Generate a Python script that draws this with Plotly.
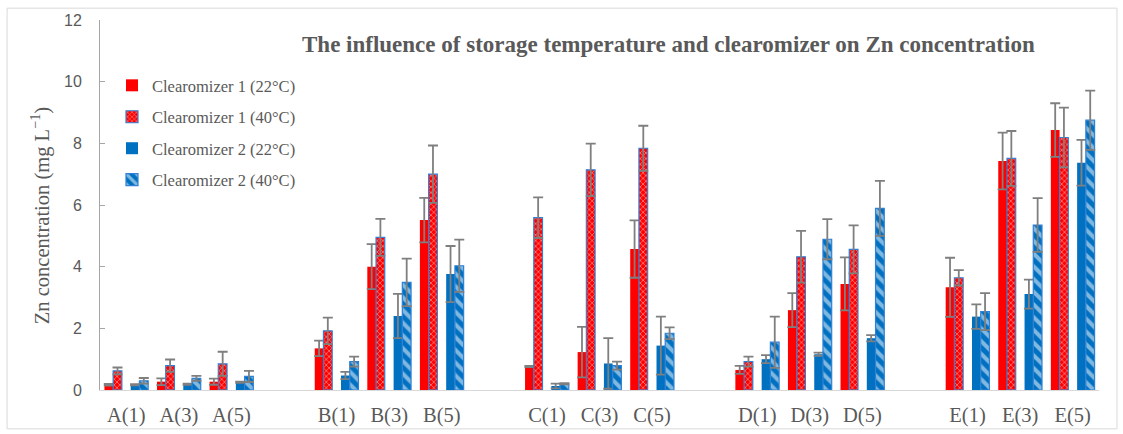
import plotly.graph_objects as go

# ---- data -------------------------------------------------------------
categories = ["A(1)", "A(3)", "A(5)",
              "B(1)", "B(3)", "B(5)",
              "C(1)", "C(3)", "C(5)",
              "D(1)", "D(3)", "D(5)",
              "E(1)", "E(3)", "E(5)"]

c1_22 = [0.17, 0.27, 0.27, 1.35, 4.00, 5.51, 0.76, 1.23, 4.57, 0.65, 2.59, 3.44, 3.33, 7.43, 8.43]
c1_22_err = [0.03, 0.11, 0.10, 0.25, 0.73, 0.72, 0.02, 0.82, 0.93, 0.13, 0.55, 0.86, 0.96, 0.92, 0.87]
c1_40 = [0.62, 0.79, 0.85, 1.92, 4.95, 7.00, 5.59, 7.14, 7.84, 0.92, 4.32, 4.56, 3.64, 7.51, 8.19]
c1_40_err = [0.11, 0.20, 0.39, 0.43, 0.60, 0.93, 0.66, 0.85, 0.73, 0.16, 0.84, 0.78, 0.25, 0.89, 0.97]
c2_22 = [0.17, 0.19, 0.25, 0.47, 2.40, 3.76, 0.13, 0.86, 1.44, 1.00, 1.16, 1.68, 2.38, 3.11, 7.37]
c2_22_err = [0.02, 0.02, 0.02, 0.12, 0.72, 0.91, 0.08, 0.82, 0.94, 0.13, 0.05, 0.10, 0.40, 0.47, 0.74]
c2_40 = [0.30, 0.38, 0.44, 0.92, 3.49, 4.03, 0.20, 0.79, 1.84, 1.55, 4.89, 5.89, 2.54, 5.35, 8.75]
c2_40_err = [0.09, 0.08, 0.18, 0.16, 0.77, 0.85, 0.02, 0.13, 0.19, 0.83, 0.65, 0.89, 0.60, 0.87, 0.96]

series_names = ["Clearomizer 1 (22°C)", "Clearomizer 1 (40°C)",
                "Clearomizer 2 (22°C)", "Clearomizer 2 (40°C)"]
title_text = "The influence of storage temperature and clearomizer on Zn concentration"
y_title = "Zn concentration (mg L<sup>−1</sup>)"

# ---- layout helpers ----------------------------------------------------
# each group of three categories is followed by one empty category slot
slot = [4 * (i // 3) + (i % 3) for i in range(len(categories))]
n_slots = 19
bw = 0.166
offsets = [0.167, 0.333, 0.667, 0.833]

RED = "#ff0000"
BLUE = "#0070c0"
EDGE = "#2f80d6"
ERR = dict(type="data", color="#7f7f7f", thickness=1.8, width=5)
SERIF = "Liberation Serif"
GREY = "#595959"

values = [c1_22, c1_40, c2_22, c2_40]
errors = [c1_22_err, c1_40_err, c2_22_err, c2_40_err]
markers = [
    dict(color=RED, line=dict(width=0)),
    dict(color=RED, line=dict(color=EDGE, width=1.2),
         pattern=dict(shape="x", fgcolor="white", bgcolor=RED, size=4, solidity=0.35)),
    dict(color=BLUE, line=dict(width=0)),
    dict(color=BLUE, line=dict(color=EDGE, width=1.2),
         pattern=dict(shape="\\", fgcolor="white", bgcolor=BLUE, size=9, solidity=0.45)),
]

fig = go.Figure()
for k in range(4):
    fig.add_trace(go.Bar(
        x=[s + offsets[k] for s in slot],
        y=values[k],
        width=bw,
        name=series_names[k],
        legendgroup=f"g{k}",
        marker=markers[k],
        error_y=dict(array=errors[k], **ERR),
    ))

fig.update_layout(
    width=1123, height=434,
    margin=dict(l=100, r=24, t=20, b=44, autoexpand=False),
    paper_bgcolor="white", plot_bgcolor="white",
    barmode="overlay",
    showlegend=True,
    legend=dict(x=0.012, y=0.87, xanchor="left", yanchor="top",
                bgcolor="rgba(0,0,0,0)", tracegroupgap=7,
                font=dict(family=SERIF, size=16.5, color=GREY)),
    xaxis=dict(range=[0, n_slots], showgrid=False, zeroline=False,
               showline=True, linecolor="#d9d9d9", linewidth=1,
               tickvals=[s + 0.5 for s in slot], ticktext=categories,
               ticks="", ticklabelstandoff=6,
               tickfont=dict(family=SERIF, size=20.5, color=GREY)),
    yaxis=dict(range=[0, 12], dtick=2, showgrid=False, zeroline=False,
               showline=True, linecolor="#a6a6a6", linewidth=1,
               ticks="inside", ticklen=5, tickcolor="#a6a6a6",
               ticklabelstandoff=14,
               tickfont=dict(family="Liberation Sans", size=16, color=GREY)),
    annotations=[
        dict(text="<b>" + title_text + "</b>", xref="paper", yref="paper",
             x=0.569, y=0.935, xanchor="center", yanchor="middle",
             showarrow=False,
             font=dict(family=SERIF, size=23, color=GREY)),
        dict(text=y_title, xref="paper", yref="paper",
             x=-0.06, y=0.47, xanchor="center", yanchor="middle",
             textangle=-90, showarrow=False,
             font=dict(family=SERIF, size=20.5, color=GREY)),
    ],
    shapes=[dict(type="rect", xref="paper", yref="paper",
                 x0=-0.093, x1=1.018, y0=-0.105, y1=1.032,
                 line=dict(color="#d9d9d9", width=1), fillcolor="rgba(0,0,0,0)",
                 layer="below")],
)

fig.write_html("out.html")
